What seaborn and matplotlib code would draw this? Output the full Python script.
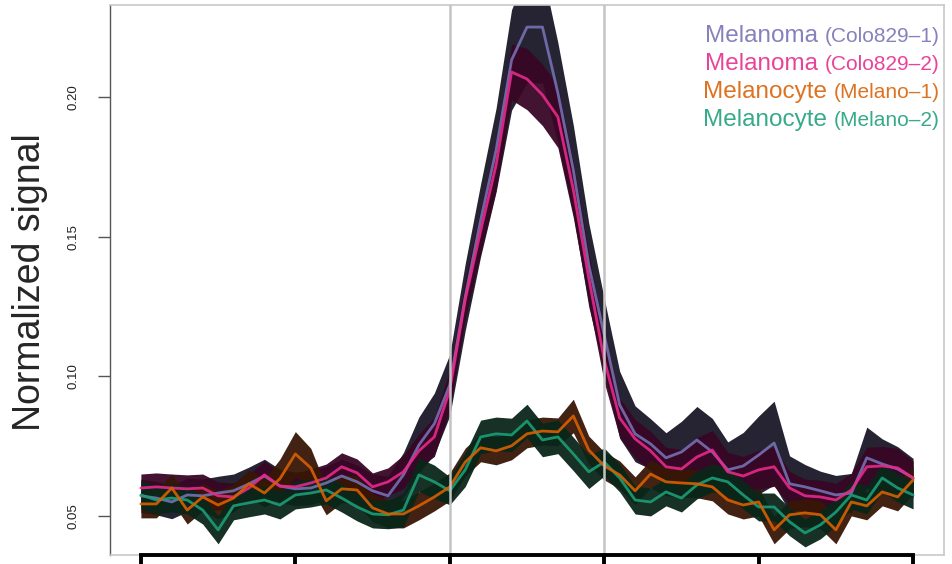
import numpy as np
import pandas as pd
import matplotlib
matplotlib.use("Agg")
import matplotlib.pyplot as plt
import seaborn as sns

# bins across the profiled region (0-100), boundaries of the centre region
position = np.arange(0, 101, 2)
boundaries = [40, 60]

cell_types = ["Melanoma", "Melanoma", "Melanocyte", "Melanocyte"]
sample_ids = ["(Colo829\u20131)", "(Colo829\u20132)", "(Melano\u20131)", "(Melano\u20132)"]
line_colors = ["#7570B3", "#E7298A", "#D95F02", "#1B9E77"]
band_colors = ["#1a1828", "#380726", "#371606", "#0a261a"]

colo1_mean = [0.0572, 0.0564, 0.0550, 0.0575, 0.0572, 0.0582, 0.0590, 0.0615, 0.0643, 0.0607,
              0.0597, 0.0600, 0.0618, 0.0643, 0.0622, 0.0590, 0.0572, 0.0647, 0.0754, 0.0830,
              0.0969, 0.1284, 0.1560, 0.1811, 0.2133, 0.2251, 0.2251, 0.2015, 0.1739, 0.1399,
              0.1148, 0.0898, 0.0794, 0.0758, 0.0708, 0.0729, 0.0772, 0.0729, 0.0665, 0.0679,
              0.0718, 0.0761, 0.0615, 0.0604, 0.0590, 0.0575, 0.0582, 0.0708, 0.0686, 0.0668,
              0.0636]
colo2_mean = [0.0600, 0.0604, 0.0600, 0.0597, 0.0600, 0.0572, 0.0568, 0.0600, 0.0647, 0.0607,
              0.0604, 0.0618, 0.0636, 0.0676, 0.0654, 0.0604, 0.0622, 0.0658, 0.0733, 0.0783,
              0.0951, 0.1274, 0.1521, 0.1757, 0.2090, 0.2065, 0.2008, 0.1929, 0.1668, 0.1352,
              0.1059, 0.0851, 0.0776, 0.0733, 0.0676, 0.0668, 0.0711, 0.0736, 0.0658, 0.0643,
              0.0665, 0.0676, 0.0600, 0.0572, 0.0568, 0.0557, 0.0593, 0.0676, 0.0679, 0.0672,
              0.0636]
melano1_mean = [0.0543, 0.0543, 0.0600, 0.0521, 0.0568, 0.0539, 0.0564, 0.0615, 0.0582, 0.0633,
                0.0722, 0.0672, 0.0554, 0.0597, 0.0593, 0.0529, 0.0507, 0.0507, 0.0536, 0.0568,
                0.0604, 0.0693, 0.0744, 0.0733, 0.0751, 0.0794, 0.0804, 0.0801, 0.0858, 0.0736,
                0.0679, 0.0647, 0.0590, 0.0650, 0.0622, 0.0618, 0.0615, 0.0604, 0.0557, 0.0539,
                0.0550, 0.0450, 0.0504, 0.0511, 0.0504, 0.0450, 0.0550, 0.0536, 0.0586, 0.0568,
                0.0629]
melano2_mean = [0.0575, 0.0557, 0.0564, 0.0557, 0.0521, 0.0450, 0.0536, 0.0547, 0.0557, 0.0539,
                0.0575, 0.0582, 0.0593, 0.0564, 0.0532, 0.0507, 0.0504, 0.0521, 0.0647, 0.0622,
                0.0590, 0.0665, 0.0783, 0.0794, 0.0790, 0.0840, 0.0772, 0.0783, 0.0722, 0.0658,
                0.0693, 0.0636, 0.0557, 0.0550, 0.0586, 0.0564, 0.0611, 0.0636, 0.0622, 0.0575,
                0.0532, 0.0532, 0.0479, 0.0439, 0.0468, 0.0514, 0.0575, 0.0557, 0.0636, 0.0600,
                0.0575]

# half widths of the shaded bands
colo1_se = [0.006, 0.006, 0.006, 0.006, 0.006, 0.006, 0.006, 0.006, 0.006, 0.006,
            0.006, 0.006, 0.006, 0.006, 0.006, 0.006, 0.007, 0.008, 0.010, 0.011,
            0.011, 0.012, 0.013, 0.015, 0.018, 0.020, 0.020, 0.018, 0.016, 0.015,
            0.013, 0.012, 0.010, 0.009, 0.009, 0.011, 0.012, 0.012, 0.010, 0.012,
            0.014, 0.015, 0.010, 0.008, 0.007, 0.007, 0.007, 0.011, 0.009, 0.008,
            0.007]
colo2_se = [0.005, 0.005, 0.005, 0.005, 0.005, 0.005, 0.005, 0.005, 0.005, 0.005,
            0.005, 0.005, 0.005, 0.005, 0.005, 0.005, 0.005, 0.006, 0.006, 0.007,
            0.007, 0.007, 0.008, 0.009, 0.010, 0.011, 0.011, 0.011, 0.010, 0.009,
            0.008, 0.007, 0.007, 0.007, 0.007, 0.007, 0.007, 0.007, 0.007, 0.007,
            0.007, 0.007, 0.006, 0.006, 0.006, 0.006, 0.006, 0.007, 0.007, 0.007,
            0.006]
melano1_se = [0.005, 0.005, 0.005, 0.005, 0.005, 0.005, 0.005, 0.005, 0.005, 0.007,
              0.008, 0.007, 0.005, 0.005, 0.005, 0.005, 0.005, 0.005, 0.005, 0.005,
              0.005, 0.005, 0.005, 0.005, 0.005, 0.005, 0.005, 0.005, 0.006, 0.005,
              0.005, 0.005, 0.005, 0.005, 0.005, 0.005, 0.005, 0.005, 0.005, 0.005,
              0.005, 0.005, 0.005, 0.005, 0.005, 0.005, 0.005, 0.005, 0.005, 0.005,
              0.005]
melano2_se = [0.005, 0.005, 0.005, 0.005, 0.005, 0.005, 0.005, 0.005, 0.005, 0.005,
              0.005, 0.005, 0.005, 0.005, 0.005, 0.005, 0.005, 0.006, 0.006, 0.006,
              0.005, 0.006, 0.006, 0.006, 0.006, 0.006, 0.006, 0.006, 0.006, 0.006,
              0.005, 0.005, 0.005, 0.005, 0.005, 0.005, 0.005, 0.005, 0.005, 0.005,
              0.005, 0.005, 0.005, 0.005, 0.005, 0.005, 0.005, 0.005, 0.005, 0.005,
              0.005]

means = [colo1_mean, colo2_mean, melano1_mean, melano2_mean]
ses = [colo1_se, colo2_se, melano1_se, melano2_se]
samples = [c + " " + s for c, s in zip(cell_types, sample_ids)]

df = pd.concat([pd.DataFrame({"position": position, "signal": m, "sample": s})
                for m, s in zip(means, samples)], ignore_index=True)

sns.set_style("white")
plt.rcParams["font.family"] = ["Liberation Sans", "DejaVu Sans"]

fig = plt.figure(figsize=(9.52, 5.64), dpi=100)
ax = fig.add_axes([110 / 952, 9 / 564, 834 / 952, 550 / 564])

for mean, se, col in zip(means, ses, band_colors):
    mean = np.array(mean)
    se = np.array(se)
    ax.fill_between(position, mean - se, mean + se, color=col, alpha=0.95, lw=0, zorder=1)

draw_order = [samples[0], samples[1], samples[3], samples[2]]
sns.lineplot(data=df, x="position", y="signal", hue="sample", hue_order=draw_order,
             palette=dict(zip(samples, line_colors)), estimator=None, sort=False,
             lw=2.0, alpha=0.9, legend=False, ax=ax, zorder=3)

for b in boundaries:
    ax.axvline(b, color="#c4c4c4", lw=1.8, zorder=5)

ax.set_xlim(-4, 104)
ax.set_ylim(0.036, 0.233)
ax.set_xticks([0, 20, 40, 60, 80, 100])
ax.set_xticklabels([])
ax.set_yticks([0.05, 0.10, 0.15, 0.20])
ax.set_yticklabels(["0.05", "0.10", "0.15", "0.20"])
ax.set_xlabel("")
ax.set_ylabel("")

for side in ["top", "right"]:
    ax.spines[side].set_color("#c8c8c8")
    ax.spines[side].set_linewidth(1.2)
ax.spines["left"].set_color("#555555")
ax.spines["left"].set_linewidth(1.0)
ax.spines["bottom"].set_color("black")
ax.spines["bottom"].set_linewidth(2.8)
ax.spines["bottom"].set_bounds(0, 100)
ax.spines["bottom"].set_zorder(6)
ax.plot([0, 1], [0, 0], transform=ax.transAxes, color="#c8c8c8", lw=1.2, clip_on=False, zorder=4)

ax.tick_params(axis="x", direction="out", length=10, width=2.8, color="black", bottom=True)
ax.tick_params(axis="y", direction="out", length=9, width=1.0, color="#555555", left=True,
               labelsize=9.5, labelcolor="#222222", labelrotation=90, pad=13)
for lab in ax.get_yticklabels():
    lab.set_va("center")

fig.text(30 / 952, 0.5, "Normalized signal", rotation=90, fontsize=27,
         ha="center", va="center")

# legend as coloured text, top right
fig.canvas.draw()
renderer = fig.canvas.get_renderer()
baselines = [42, 70, 98, 126]
for ct, sid, col, base in zip(cell_types, sample_ids, line_colors, baselines):
    yb = 1 - base / 564
    small = fig.text(940 / 952, yb, sid, ha="right", va="baseline", fontsize=15,
                     color=col, alpha=0.88)
    bb = small.get_window_extent(renderer)
    fig.text((bb.x0 - 7) / fig.bbox.width, yb, ct, ha="right", va="baseline",
             fontsize=17.5, color=col, alpha=0.88)

fig.savefig("out.png", dpi=100)
